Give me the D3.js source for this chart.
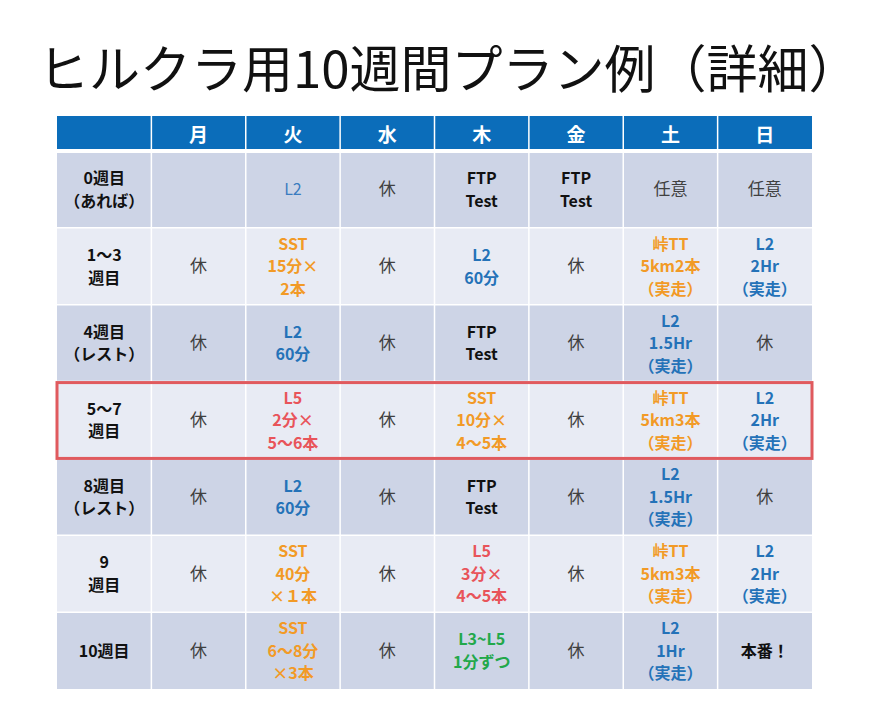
<!DOCTYPE html>
<html><head><meta charset="utf-8">
<script src="https://d3js.org/d3.v7.min.js"></script>
<style>body{margin:0;background:#fff}</style></head>
<body><svg id="c" width="869" height="718"></svg>
<script>
const title = "ヒルクラ用10週間プラン例（詳細）";
const days = ["月","火","水","木","金","土","日"];
const weeks = ["0週目\n（あれば）","1～3\n週目","4週目\n（レスト）","5～7\n週目","8週目\n（レスト）","9\n週目","10週目"];
// cell text; style code: r=rest(gray normal), b=blue, o=orange, R=red, g=green, k=black bold, n=blue normal
const w0 = [["",""],["L2","n"],["休","r"],["FTP\nTest","k"],["FTP\nTest","k"],["任意","r"],["任意","r"]];
const w1 = [["休","r"],["SST\n15分×\n2本","o"],["休","r"],["L2\n60分","b"],["休","r"],["峠TT\n5km2本\n（実走）","o"],["L2\n2Hr\n（実走）","b"]];
const w2 = [["休","r"],["L2\n60分","b"],["休","r"],["FTP\nTest","k"],["休","r"],["L2\n1.5Hr\n（実走）","b"],["休","r"]];
const w3 = [["休","r"],["L5\n2分×\n5～6本","R"],["休","r"],["SST\n10分×\n4～5本","o"],["休","r"],["峠TT\n5km3本\n（実走）","o"],["L2\n2Hr\n（実走）","b"]];
const w4 = [["休","r"],["L2\n60分","b"],["休","r"],["FTP\nTest","k"],["休","r"],["L2\n1.5Hr\n（実走）","b"],["休","r"]];
const w5 = [["休","r"],["SST\n40分\n×１本","o"],["休","r"],["L5\n3分×\n4～5本","R"],["休","r"],["峠TT\n5km3本\n（実走）","o"],["L2\n2Hr\n（実走）","b"]];
const w6 = [["休","r"],["SST\n6～8分\n×3本","o"],["休","r"],["L3~L5\n1分ずつ","g"],["休","r"],["L2\n1Hr\n（実走）","b"],["本番！","k"]];
const cells = [w0,w1,w2,w3,w4,w5,w6];
const highlightRow = 3;

const colors = {r:"#404040",b:"#2472b8",n:"#3a7cc0",o:"#f29a26",R:"#e8545a",g:"#22a84a",k:"#111"};
const svg = d3.select("#c");
const font = "'Noto Sans CJK JP', sans-serif";
svg.append("text").attr("x",38).attr("y",88).attr("font-family",font).attr("font-size",51).attr("fill","#111").text(title);

const x = d3.scaleBand().domain(d3.range(8)).range([57,812]);
const y = d3.scaleBand().domain(d3.range(7)).range([151,689]);
const hdr = 116;

svg.append("rect").attr("x",57).attr("y",hdr).attr("width",755).attr("height",151-hdr).attr("fill","#0b6dba");
days.forEach((d,i)=>{
  svg.append("text").attr("x",x(i+1)+x.bandwidth()/2).attr("y",hdr+26).attr("text-anchor","middle")
    .attr("font-family",font).attr("font-weight","bold").attr("font-size",19).attr("fill","#fff").text(d);
});
function lines(g,cx,cy,txt,color,weight,size){
  const ls = txt.split("\n"); const lh = 22.5;
  ls.forEach((l,k)=>{
    g.append("text").attr("x",cx).attr("y",cy+(k-(ls.length-1)/2)*lh+6).attr("text-anchor","middle")
     .attr("font-family",font).attr("font-weight",weight).attr("font-size",size).attr("fill",color).text(l);
  });
}
weeks.forEach((w,r)=>{
  const fill = r%2===0 ? "#cdd4e6" : "#e8ebf4";
  svg.append("rect").attr("x",57).attr("y",y(r)).attr("width",755).attr("height",y.bandwidth()).attr("fill",fill);
  const cy = y(r)+y.bandwidth()/2;
  lines(svg,x(0)+x.bandwidth()/2,cy,w,"#111","bold",16);
  cells[r].forEach((c,i)=>{
    const [t,s]=c; if(!t) return;
    const bold = !(s==="r"||s==="n");
    lines(svg,x(i+1)+x.bandwidth()/2,cy,t,colors[s],bold?"bold":"normal",s==="r"?17:16);
  });
});
d3.range(1,8).forEach(i=>svg.append("line").attr("x1",x(i)).attr("x2",x(i)).attr("y1",hdr).attr("y2",689).attr("stroke","#fff").attr("stroke-width",1.5));
d3.range(0,7).forEach(r=>svg.append("line").attr("x1",57).attr("x2",812).attr("y1",y(r)).attr("y2",y(r)).attr("stroke","#fff").attr("stroke-width",r===0?4:1.5));
svg.append("rect").attr("x",57).attr("y",y(highlightRow)+1).attr("width",755).attr("height",y.bandwidth()-1)
  .attr("fill","none").attr("stroke","#e05a5e").attr("stroke-width",3);
</script></body></html>
